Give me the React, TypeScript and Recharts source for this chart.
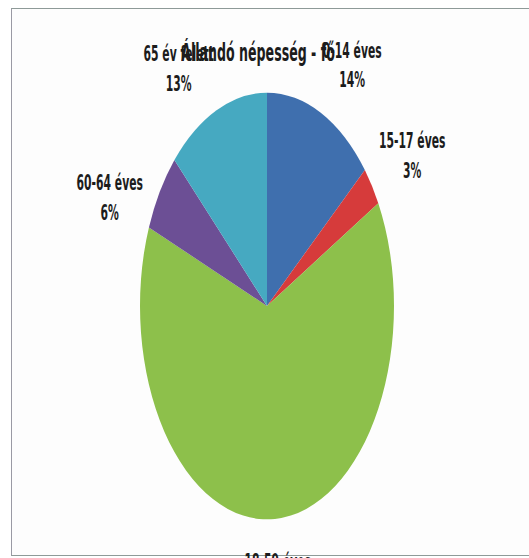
import React from 'react';
import { PieChart, Pie, Cell } from 'recharts';

const categories = ['0-14 éves', '15-17 éves', '18-59 éves', '60-64 éves', '65 év felett'];
const shares = [14, 3, 64, 6, 13];
const colors = ['#3f6fae', '#d63b3b', '#8dc04b', '#6c4f95', '#46a9c1'];
const chartTitle = 'Állandó népesség - fő';

const data = categories.map((name, i) => ({ name, value: shares[i] }));

const W = 529;
const H = 558;
const CX = 267;
const CY = 306;
const RX = 127;
const STRETCH = 1.68;
const TEXT_STRETCH = 1.75;
const labelNudge: [number, number][] = [[12, -7], [3, -5], [0, 13], [-12, 30], [-20, 0]];
const FONT = "'Liberation Sans Narrow','DejaVu Sans Condensed','Arial Narrow',sans-serif";
const RAD = Math.PI / 180;

function EllipseSector(props: any) {
  const { cx, cy, outerRadius, startAngle, endAngle, fill } = props;
  const rx = outerRadius;
  const ry = outerRadius * STRETCH;
  const p = (a: number) => [cx + rx * Math.cos(a * RAD), cy - ry * Math.sin(a * RAD)];
  const [x1, y1] = p(startAngle);
  const [x2, y2] = p(endAngle);
  const delta = startAngle - endAngle;
  const large = Math.abs(delta) > 180 ? 1 : 0;
  const sweep = delta > 0 ? 1 : 0;
  const d = `M${cx},${cy} L${x1},${y1} A${rx},${ry} 0 ${large} ${sweep} ${x2},${y2} Z`;
  return <path d={d} fill={fill} stroke="none" />;
}

function renderLabel(props: any) {
  const { cx, cy, midAngle, outerRadius, index } = props;
  const rx = outerRadius + 45;
  const ry = outerRadius * STRETCH + 45;
  const lx = cx + rx * Math.cos(midAngle * RAD) + labelNudge[index][0];
  const ly = cy - ry * Math.sin(midAngle * RAD) + labelNudge[index][1];
  return (
    <text
      key={`lbl-${index}`}
      transform={`translate(${lx},${ly}) scale(1,${TEXT_STRETCH})`}
      textAnchor="middle"
      fontFamily={FONT}
      fontWeight="bold"
      fontSize={12}
      fill="#1c1c1c"
    >
      <tspan x={0} y={-8.5} dominantBaseline="central">{categories[index]}</tspan>
      <tspan x={0} y={8.5} dominantBaseline="central">{shares[index]}%</tspan>
    </text>
  );
}

export default function App() {
  return (
    <div style={{ position: 'absolute', left: 0, top: 0, width: W, height: H, overflow: 'hidden', background: '#ffffff' }}>
      <div
        style={{
          position: 'absolute',
          left: 11,
          top: 8,
          width: 540,
          height: 548,
          boxSizing: 'border-box',
          borderTop: '1.5px solid #8e9a98',
          borderLeft: '1.5px solid #9a9aa4',
          borderBottom: '1.5px solid #8e9a98',
          background: '#fdfdfd',
        }}
      />
      <div style={{ position: 'absolute', left: 0, top: 0 }}>
        <PieChart width={W} height={H} margin={{ top: 0, right: 0, bottom: 0, left: 0 }}>
          <Pie
            data={data}
            dataKey="value"
            nameKey="name"
            cx={CX}
            cy={CY}
            outerRadius={RX}
            startAngle={90}
            endAngle={-270}
            stroke="none"
            isAnimationActive={false}
            labelLine={false}
            label={renderLabel}
            shape={EllipseSector}
            activeShape={EllipseSector}
            inactiveShape={EllipseSector}
          >
            {data.map((d, i) => (
              <Cell key={d.name} fill={colors[i]} />
            ))}
          </Pie>
        </PieChart>
      </div>
      <div
        style={{
          position: 'absolute',
          left: 0,
          width: 516,
          top: 42,
          textAlign: 'center',
          fontFamily: FONT,
          fontWeight: 'bold',
          fontSize: 14,
          color: '#1c1c1c',
          transform: `scaleY(${TEXT_STRETCH})`,
          lineHeight: '20px',
          whiteSpace: 'nowrap',
        }}
      >
        {chartTitle}
      </div>
    </div>
  );
}
